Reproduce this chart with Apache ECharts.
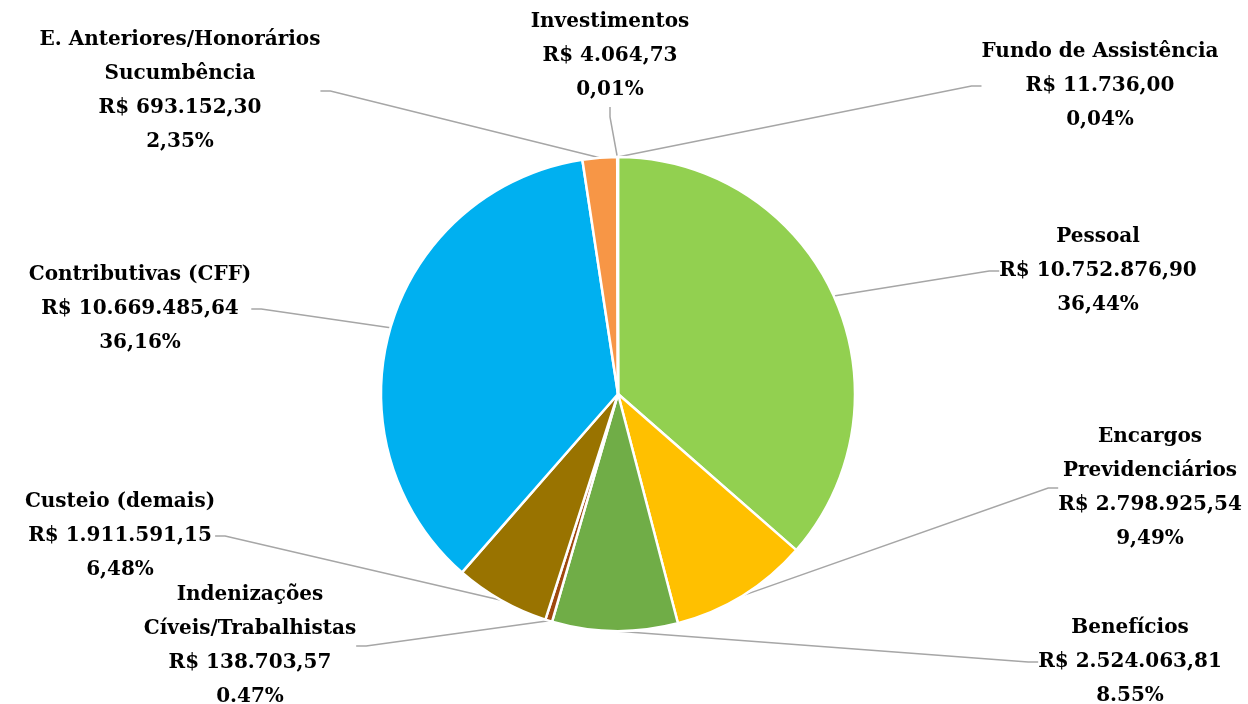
<!DOCTYPE html>
<html>
<head>
<meta charset="utf-8">
<script src="https://cdn.jsdelivr.net/npm/echarts@6/dist/echarts.min.js"></script>
<style>
  html, body { margin: 0; padding: 0; background: #fff; }
  #chart { width: 1248px; height: 704px; }
</style>
</head>
<body>
<div id="chart"></div>
<script>
// categorias na ordem do gráfico (sentido horário a partir do topo)
const categories = ['Pessoal', 'Encargos\nPrevidenciários', 'Benefícios', 'Indenizações\nCíveis/Trabalhistas',
  'Custeio (demais)', 'Contributivas (CFF)', 'E. Anteriores/Honorários\nSucumbência', 'Investimentos', 'Fundo de Assistência']
const values = [10752876.90, 2798925.54, 2524063.81, 138703.57, 1911591.15, 10669485.64, 693152.30, 4064.73, 11736.00]
const pctLabels = ['36,44%', '9,49%', '8.55%', '0.47%', '6,48%', '36,16%', '2,35%', '0,01%', '0,04%']
const colors = ['#92D050', '#FFC000', '#70AD47', '#9E480E', '#997300', '#00B0F0', '#F79646', '#A5A5A5', '#4472C4']

// posição dos rótulos (centro x, topo do bloco de texto)
const labelPos = [[1098, 220], [1150, 420], [1130, 611], [250, 578], [120, 485], [140, 258], [180, 23], [610, 5], [1100, 35]]

function brl(v) {
  const [int, dec] = v.toFixed(2).split('.')
  return 'R$ ' + int.replace(/\B(?=(\d{3})+(?!\d))/g, '.') + ',' + dec
}

const chart = echarts.init(document.getElementById('chart'))
chart.setOption({
  animation: false,
  color: colors,
  series: [{
    type: 'pie',
    center: [618, 394],
    radius: 237,
    startAngle: 90,
    itemStyle: { borderColor: '#fff', borderWidth: 2.5 },
    label: {
      show: true,
      formatter: p => p.name + '\n' + brl(p.value) + '\n' + pctLabels[p.dataIndex],
      fontFamily: 'DejaVu Serif',
      fontWeight: 'bold',
      fontSize: 20,
      lineHeight: 34,
      color: '#000',
      align: 'center'
    },
    labelLine: { show: true, length: 20, length2: 10, lineStyle: { color: '#A6A6A6', width: 1.5 } },
    labelLayout: p => ({
      x: labelPos[p.dataIndex][0],
      y: labelPos[p.dataIndex][1],
      align: 'center',
      verticalAlign: 'top'
    }),
    data: categories.map((c, i) => ({ name: c, value: values[i] }))
  }]
})
</script>
</body>
</html>
